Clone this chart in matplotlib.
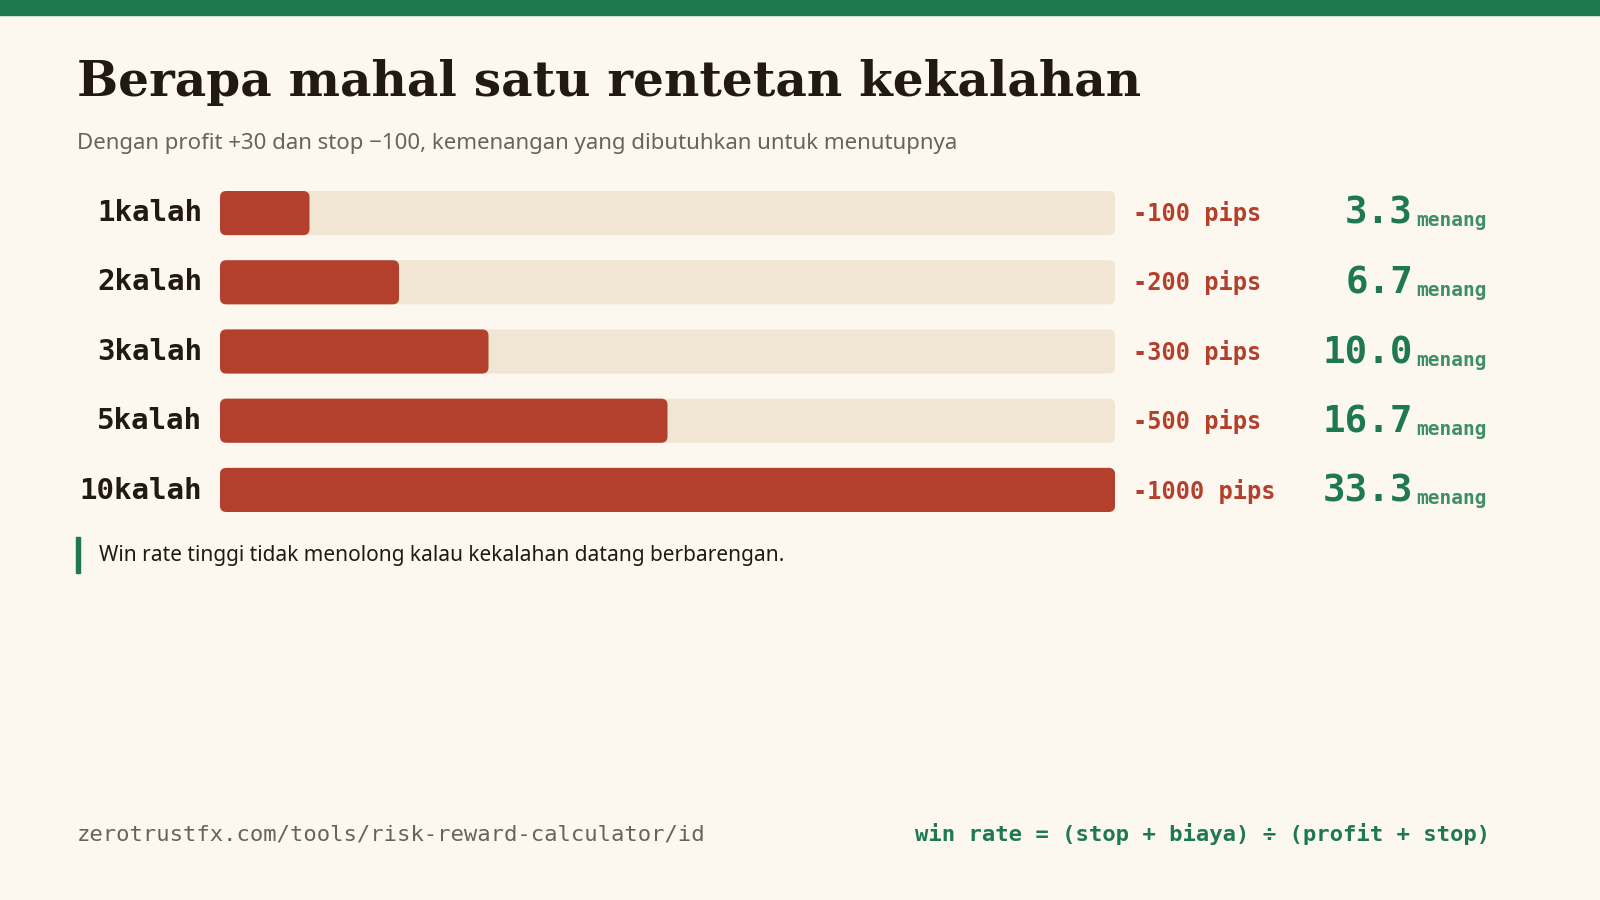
import matplotlib.pyplot as plt
from matplotlib.patches import FancyBboxPatch, Rectangle

losses = [1, 2, 3, 5, 10]
row_labels = ["1kalah", "2kalah", "3kalah", "5kalah", "10kalah"]
pips = [-100, -200, -300, -500, -1000]
wins_needed = ["3.3", "6.7", "10.0", "16.7", "33.3"]

BG = "#fcf8ef"
RED = "#b3402c"
TRACK = "#f1e6d3"
GREEN = "#1e7a4e"
DARK = "#221a12"
GREY = "#6b6258"

W, H = 1600, 900
fig = plt.figure(figsize=(16, 9), dpi=100, facecolor=BG)

def px(x, y):
    return x / W, 1 - y / H

# top strip
fig.patches.append(Rectangle((0, 1 - 15 / H), 1, 15 / H, transform=fig.transFigure,
                             color=GREEN, zorder=0))

fig.text(*px(77, 82), "Berapa mahal satu rentetan kekalahan", fontsize=35, fontweight="bold",
         family="DejaVu Serif", color=DARK, va="center")
fig.text(*px(77, 143), "Dengan profit +30 dan stop \u2212100, kemenangan yang dibutuhkan untuk menutupnya",
         fontsize=16, family="Noto Sans", color=GREY, va="center")

# bars
top, bottom = 191, 512
ax = fig.add_axes([220 / W, 1 - bottom / H, 895 / W, (bottom - top) / H])
ax.set_facecolor("none")
bh = 44 / 69
ax.set_xlim(0, 1000)
ax.set_ylim(4 + bh / 2, -bh / 2)
ax.axis("off")
aspect = ((4 + bh) / (bottom - top)) / (1000 / 895)
maxv = max(abs(p) for p in pips)
for i, p in enumerate(pips):
    for w, c in [(1000, TRACK), (abs(p) / maxv * 1000, RED)]:
        ax.add_patch(FancyBboxPatch((0, i - bh / 2), w, bh,
                                    boxstyle="round,pad=0,rounding_size=7",
                                    mutation_aspect=aspect, fc=c, ec="none"))

for i in range(len(losses)):
    y = top + 22 + i * 69.5
    fig.text(*px(202, y), row_labels[i], fontsize=21, fontweight="bold",
             family="DejaVu Sans Mono", color=DARK, ha="right", va="center")
    fig.text(*px(1133, y), f"{pips[i]} pips", fontsize=17, fontweight="bold",
             family="DejaVu Sans Mono", color=RED, ha="left", va="center")
    fig.text(*px(1413, y + 1), wins_needed[i], fontsize=27, fontweight="bold",
             family="DejaVu Sans Mono", color=GREEN, ha="right", va="center")
    fig.text(*px(1416, y + 8), "menang", fontsize=14, fontweight="bold",
             family="DejaVu Sans Mono", color="#3f8f64", ha="left", va="center")

# note
fig.patches.append(Rectangle(px(76, 573), 4 / W, 36 / H, transform=fig.transFigure,
                             color=GREEN))
fig.text(*px(99, 555), "Win rate tinggi tidak menolong kalau kekalahan datang berbarengan.",
         fontsize=15, family="Noto Sans", color=DARK, va="center")

# footer
fig.text(*px(77, 834), "zerotrustfx.com/tools/risk-reward-calculator/id", fontsize=16,
         family="DejaVu Sans Mono", color=GREY, va="center")
fig.text(*px(1490, 834), "win rate = (stop + biaya) \u00f7 (profit + stop)", fontsize=16,
         fontweight="bold", family="DejaVu Sans Mono", color=GREEN, ha="right", va="center")

fig.savefig("out.png", dpi=100, facecolor=BG)
